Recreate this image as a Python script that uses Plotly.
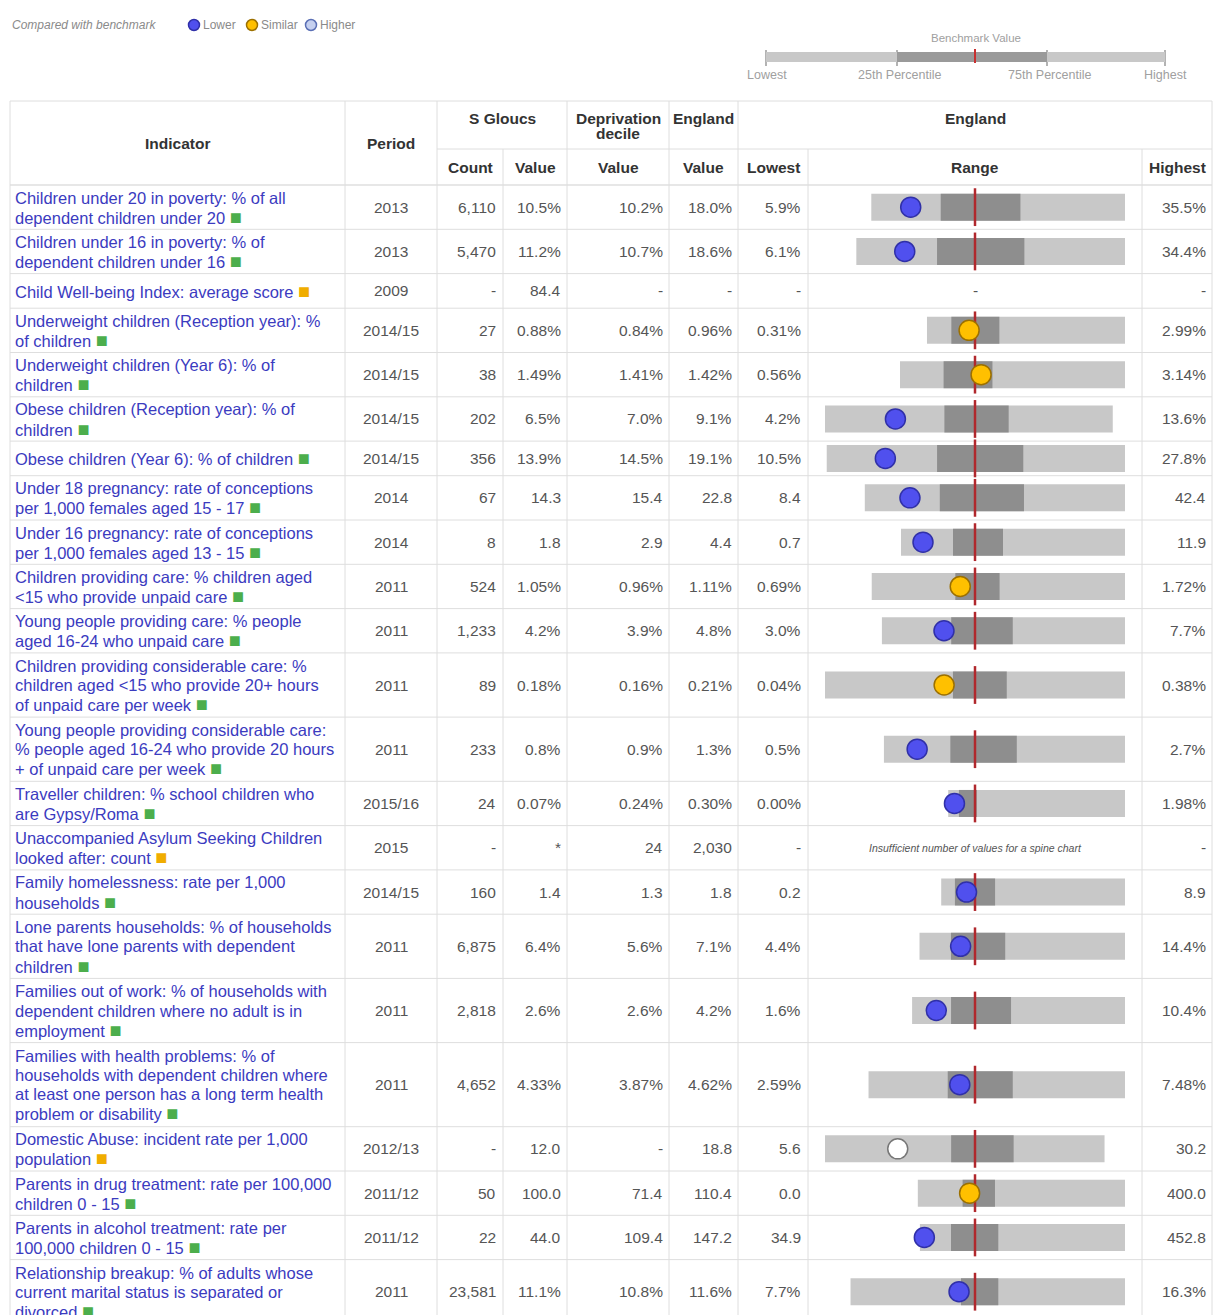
import plotly.graph_objects as go

W, H = 1217, 1315

# ---------------- data ----------------
indicator_lines = [
    ["Children under 20 in poverty: % of all", "dependent children under 20"],
    ["Children under 16 in poverty: % of", "dependent children under 16"],
    ["Child Well-being Index: average score"],
    ["Underweight children (Reception year): %", "of children"],
    ["Underweight children (Year 6): % of", "children"],
    ["Obese children (Reception year): % of", "children"],
    ["Obese children (Year 6): % of children"],
    ["Under 18 pregnancy: rate of conceptions", "per 1,000 females aged 15 - 17"],
    ["Under 16 pregnancy: rate of conceptions", "per 1,000 females aged 13 - 15"],
    ["Children providing care: % children aged", "&lt;15 who provide unpaid care"],
    ["Young people providing care: % people", "aged 16-24 who unpaid care"],
    ["Children providing considerable care: %", "children aged &lt;15 who provide 20+ hours", "of unpaid care per week"],
    ["Young people providing considerable care:", "% people aged 16-24 who provide 20 hours", "+ of unpaid care per week"],
    ["Traveller children: % school children who", "are Gypsy/Roma"],
    ["Unaccompanied Asylum Seeking Children", "looked after: count"],
    ["Family homelessness: rate per 1,000", "households"],
    ["Lone parents households: % of households", "that have lone parents with dependent", "children"],
    ["Families out of work: % of households with", "dependent children where no adult is in", "employment"],
    ["Families with health problems: % of", "households with dependent children where", "at least one person has a long term health", "problem or disability"],
    ["Domestic Abuse: incident rate per 1,000", "population"],
    ["Parents in drug treatment: rate per 100,000", "children 0 - 15"],
    ["Parents in alcohol treatment: rate per", "100,000 children 0 - 15"],
    ["Relationship breakup: % of adults whose", "current marital status is separated or", "divorced"],
]
badges = ["g", "g", "y", "g", "g", "g", "g", "g", "g", "g", "g", "g", "g", "g", "y",
          "g", "g", "g", "g", "y", "g", "g", "g"]
periods = ["2013", "2013", "2009", "2014/15", "2014/15", "2014/15", "2014/15", "2014", "2014",
           "2011", "2011", "2011", "2011", "2015/16", "2015", "2014/15", "2011", "2011", "2011",
           "2012/13", "2011/12", "2011/12", "2011"]
counts = ["6,110", "5,470", "-", "27", "38", "202", "356", "67", "8", "524", "1,233", "89", "233",
          "24", "-", "160", "6,875", "2,818", "4,652", "-", "50", "22", "23,581"]
values = ["10.5%", "11.2%", "84.4", "0.88%", "1.49%", "6.5%", "13.9%", "14.3", "1.8", "1.05%",
          "4.2%", "0.18%", "0.8%", "0.07%", "*", "1.4", "6.4%", "2.6%", "4.33%", "12.0", "100.0",
          "44.0", "11.1%"]
decile_values = ["10.2%", "10.7%", "-", "0.84%", "1.41%", "7.0%", "14.5%", "15.4", "2.9", "0.96%",
                 "3.9%", "0.16%", "0.9%", "0.24%", "24", "1.3", "5.6%", "2.6%", "3.87%", "-",
                 "71.4", "109.4", "10.8%"]
england_values = ["18.0%", "18.6%", "-", "0.96%", "1.42%", "9.1%", "19.1%", "22.8", "4.4", "1.11%",
                  "4.8%", "0.21%", "1.3%", "0.30%", "2,030", "1.8", "7.1%", "4.2%", "4.62%", "18.8",
                  "110.4", "147.2", "11.6%"]
lowest_labels = ["5.9%", "6.1%", "-", "0.31%", "0.56%", "4.2%", "10.5%", "8.4", "0.7", "0.69%",
                 "3.0%", "0.04%", "0.5%", "0.00%", "-", "0.2", "4.4%", "1.6%", "2.59%", "5.6",
                 "0.0", "34.9", "7.7%"]
highest_labels = ["35.5%", "34.4%", "-", "2.99%", "3.14%", "13.6%", "27.8%", "42.4", "11.9", "1.72%",
                  "7.7%", "0.38%", "2.7%", "1.98%", "-", "8.9", "14.4%", "10.4%", "7.48%", "30.2",
                  "400.0", "452.8", "16.3%"]

# spine chart values (None = no spine chart)
sp_low = [5.9, 6.1, None, 0.31, 0.56, 4.2, 10.5, 8.4, 0.7, 0.69, 3.0, 0.04, 0.45, 0.0, None,
          0.2, 4.4, 1.6, 2.59, 5.6, 0.0, 34.9, 7.7]
sp_q25 = [14.0, 14.6, None, 0.64, 1.06, 8.1, 16.9, 18.2, 3.3, 1.03, 4.34, 0.185, 1.07, 0.12, None,
          0.85, 5.93, 3.21, 4.10, 16.7, 86.5, 98.3, 11.16]
sp_q75 = [23.3, 23.8, None, 1.29, 1.62, 10.2, 21.9, 29.2, 5.8, 1.21, 5.53, 0.246, 1.69, 0.32, None,
          2.75, 8.57, 5.69, 5.34, 22.2, 149.0, 194.7, 12.33]
sp_high = [35.5, 34.4, None, 2.99, 3.14, 13.6, 27.8, 42.4, 11.9, 1.72, 7.7, 0.38, 2.7, 1.98, None,
           8.9, 14.4, 10.4, 7.48, 30.2, 400.0, 452.8, 16.3]
sp_bench = [18.0, 18.6, None, 0.96, 1.42, 9.1, 19.1, 22.8, 4.4, 1.11, 4.8, 0.21, 1.3, 0.30, None,
            1.8, 7.1, 4.2, 4.62, 18.8, 110.4, 147.2, 11.6]
sp_value = [10.5, 11.2, None, 0.88, 1.49, 6.5, 13.9, 14.3, 1.8, 1.05, 4.2, 0.175, 0.76, 0.07, None,
            1.4, 6.4, 2.6, 4.33, 12.0, 100.0, 44.0, 11.1]
significance = ["lower", "lower", None, "similar", "similar", "lower", "lower", "lower", "lower",
                "similar", "lower", "similar", "lower", "lower", None, "lower", "lower", "lower",
                "lower", "none", "similar", "lower", "lower"]

# ---------------- styles ----------------
FONT = "Liberation Sans, Arial, sans-serif"
LINK = "#3b3bbf"
NUM = "#555555"
HEAD = "#333333"
GRID = "#dedede"
LIGHT = "#c8c8c8"
DARK = "#8e8e8e"
RED = "#b0282d"
BADGE = {"g": "#4cae4c", "y": "#f0ad00"}
DOT_FILL = {"lower": "#5050ee", "similar": "#ffc000", "none": "#ffffff", "higher": "#c5d0f0"}
DOT_LINE = {"lower": "#3030a8", "similar": "#9c7000", "none": "#777777", "higher": "#5a6fb5"}

col_edges = [10, 345, 437, 503, 567, 669, 738, 808, 1142, 1212]
HEAD_TOP, HEAD_MID, HEAD_BOT = 101, 149, 185
LINE_GAP = 19.2


def row_h(n):
    return 34.6 if n == 1 else 19.9 * n + 4.5


N = len(indicator_lines)
tops, centers = [], []
y = HEAD_BOT
for lines in indicator_lines:
    h = row_h(len(lines))
    tops.append(y)
    centers.append(y + h / 2)
    y += h
bottom = y

fig = go.Figure()
ann = []
shapes = []


def text(x, y, s, size=15.5, color=NUM, anchor="right", bold=False, italic=False, family=FONT):
    if bold:
        s = "<b>" + s + "</b>"
    if italic:
        s = "<i>" + s + "</i>"
    ann.append(dict(x=x, y=y, xref="x", yref="y", text=s, showarrow=False,
                    xanchor=anchor, yanchor="middle",
                    font=dict(size=size, color=color, family=family)))


def hline(x0, x1, yy, color=GRID, width=1):
    shapes.append(dict(type="line", xref="x", yref="y", x0=x0, x1=x1, y0=yy, y1=yy,
                       line=dict(color=color, width=width), layer="below"))


def vline(xx, y0, y1, color=GRID, width=1):
    shapes.append(dict(type="line", xref="x", yref="y", x0=xx, x1=xx, y0=y0, y1=y1,
                       line=dict(color=color, width=width), layer="below"))


# ---------- top legend ----------
text(10, 25, "Compared with benchmark", size=12, color="#8a8a8a", anchor="left", italic=True)
legend_items = [("lower", "Lower", 194), ("similar", "Similar", 252), ("higher", "Higher", 311)]
fig.add_trace(go.Scatter(
    x=[p for _, _, p in legend_items], y=[25] * 3, mode="markers", hoverinfo="skip",
    marker=dict(size=11, color=[DOT_FILL[k] for k, _, _ in legend_items],
                line=dict(color=[DOT_LINE[k] for k, _, _ in legend_items], width=1.5)),
    xaxis="x", yaxis="y", showlegend=False))
for k, lab, p in legend_items:
    text(p + 7, 25, lab, size=12, color="#8a8a8a", anchor="left")

# ---------- benchmark key ----------
shapes.append(dict(type="rect", xref="x", yref="y", x0=766, x1=1165, y0=52, y1=62,
                   fillcolor=LIGHT, line=dict(width=0)))
shapes.append(dict(type="rect", xref="x", yref="y", x0=897, x1=1047, y0=52, y1=62,
                   fillcolor="#9a9a9a", line=dict(width=0)))
for xx in [766, 897, 1047, 1165]:
    vline(xx, 50, 66, color="#9a9a9a", width=1.5)
shapes.append(dict(type="line", xref="x", yref="y", x0=975, x1=975, y0=49, y1=63,
                   line=dict(color="#c83030", width=2)))
text(976, 38, "Benchmark Value", size=11.5, color="#a0a0a0", anchor="center")
for lab, xx in [("Lowest", 767), ("25th Percentile", 899), ("75th Percentile", 1049), ("Highest", 1165)]:
    text(xx, 75, lab, size=12.5, color="#a0a0a0", anchor="center")

# ---------- table grid ----------
hline(col_edges[0], col_edges[-1], HEAD_TOP)
hline(col_edges[2], col_edges[-1], HEAD_MID)
hline(col_edges[0], col_edges[-1], HEAD_BOT, color="#cfcfcf")
for t in tops[1:]:
    hline(col_edges[0], col_edges[-1], t)
hline(col_edges[0], col_edges[-1], bottom)
for xx in [10, 345, 437, 567, 669, 738, 1212]:
    vline(xx, HEAD_TOP, bottom)
for xx in [503, 808, 1142]:
    vline(xx, HEAD_MID, bottom)

# ---------- header text ----------
HS = 15.5
text(177, (HEAD_TOP + HEAD_BOT) / 2, "Indicator", size=HS, color=HEAD, anchor="center", bold=True)
text(391, (HEAD_TOP + HEAD_BOT) / 2, "Period", size=HS, color=HEAD, anchor="center", bold=True)
text(502, 118, "S Gloucs", size=HS, color=HEAD, anchor="center", bold=True)
text(618, 118, "Deprivation", size=HS, color=HEAD, anchor="center", bold=True)
text(618, 133, "decile", size=HS, color=HEAD, anchor="center", bold=True)
text(703, 118, "England", size=HS, color=HEAD, anchor="center", bold=True)
text(975, 118, "England", size=HS, color=HEAD, anchor="center", bold=True)
sub_y = 167
for lab, xx in [("Count", 470), ("Value", 535), ("Value", 618), ("Value", 703),
                ("Lowest", 773), ("Range", 975), ("Highest", 1177)]:
    text(xx, sub_y, lab, size=HS, color=HEAD, anchor="center", bold=True)

# ---------- rows ----------
IS = 16.5
for i, lines in enumerate(indicator_lines):
    n = len(lines)
    c = centers[i]
    for k, ln in enumerate(lines):
        yy = c + (k - (n - 1) / 2) * LINE_GAP
        s = ln
        if k == n - 1:
            s = ln + ' <span style="color:%s;font-size:20px">&#9632;</span>' % BADGE[badges[i]]
        text(13, yy, s, size=IS, color=LINK, anchor="left")
    text(391, c, periods[i], anchor="center")
    text(498, c, counts[i])
    text(563, c, values[i])
    text(665, c, decile_values[i])
    text(734, c, england_values[i])
    text(803, c, lowest_labels[i])
    text(1208, c, highest_labels[i])
    if sp_bench[i] is None:
        if i == 2:
            text(975, c, "-", anchor="center")
        else:
            text(975, c, "Insufficient number of values for a spine chart", size=10.5,
                 color="#555555", anchor="center", italic=True)

# ---------- spine charts (own axis: benchmark = 0, furthest extreme = +/-1) ----------
idx = [i for i in range(N) if sp_bench[i] is not None]


def norm(i, v):
    d = max(sp_bench[i] - sp_low[i], sp_high[i] - sp_bench[i])
    return (v - sp_bench[i]) / d


ys = [centers[i] for i in idx]
lo_n = [norm(i, sp_low[i]) for i in idx]
hi_n = [norm(i, sp_high[i]) for i in idx]
q1_n = [norm(i, sp_q25[i]) for i in idx]
q3_n = [norm(i, sp_q75[i]) for i in idx]
v_n = [norm(i, sp_value[i]) for i in idx]

BAR_W = 27
fig.add_trace(go.Bar(orientation="h", y=ys, base=lo_n, x=[b - a for a, b in zip(lo_n, hi_n)],
                     width=[BAR_W] * len(ys), marker=dict(color=LIGHT, line=dict(width=0)),
                     xaxis="x2", yaxis="y", showlegend=False, hoverinfo="skip"))
fig.add_trace(go.Bar(orientation="h", y=ys, base=q1_n, x=[b - a for a, b in zip(q1_n, q3_n)],
                     width=[BAR_W] * len(ys), marker=dict(color=DARK, line=dict(width=0)),
                     xaxis="x2", yaxis="y", showlegend=False, hoverinfo="skip"))
fig.add_trace(go.Scatter(x=[0] * len(ys), y=ys, mode="markers", hoverinfo="skip",
                         marker=dict(symbol="line-ns", size=BAR_W, line=dict(color=RED, width=2.5)),
                         xaxis="x2", yaxis="y", showlegend=False))
fig.add_trace(go.Scatter(x=v_n, y=ys, mode="markers", hoverinfo="skip",
                         marker=dict(size=20, color=[DOT_FILL[significance[i]] for i in idx],
                                     line=dict(color=[DOT_LINE[significance[i]] for i in idx], width=1.5)),
                         xaxis="x2", yaxis="y", showlegend=False))

R = (1142 - 808) / 2 / 150.0
fig.update_layout(
    width=W, height=H, margin=dict(l=0, r=0, t=0, b=0, pad=0),
    paper_bgcolor="white", plot_bgcolor="rgba(0,0,0,0)", barmode="overlay",
    xaxis=dict(range=[0, W], domain=[0, 1], visible=False, fixedrange=True),
    xaxis2=dict(range=[-R, R], domain=[808 / W, 1142 / W], anchor="y", visible=False, fixedrange=True),
    yaxis=dict(range=[H, 0], domain=[0, 1], visible=False, fixedrange=True),
    annotations=ann, shapes=shapes, showlegend=False,
    font=dict(family=FONT),
)

fig.write_html("out.html", config=dict(displayModeBar=False),
               post_script="document.body.style.margin='0';document.body.style.overflow='hidden';")
